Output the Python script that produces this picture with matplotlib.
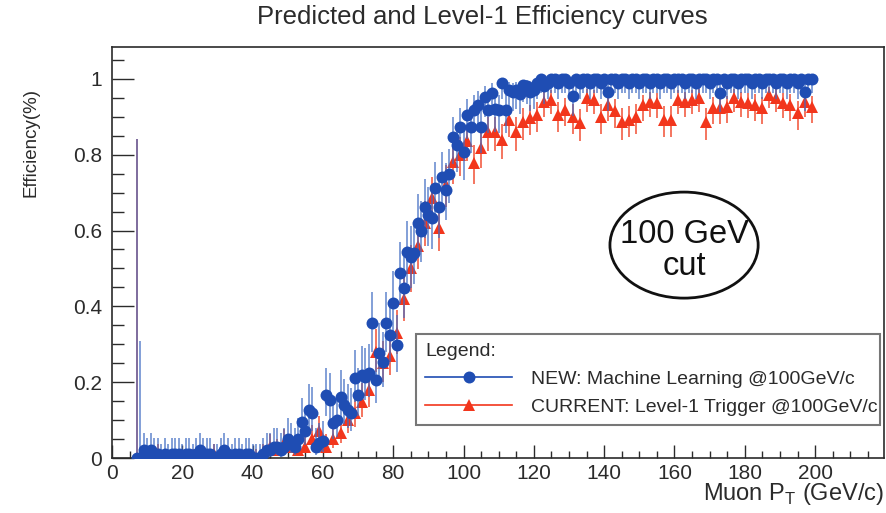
import math
import numpy as np
import matplotlib
matplotlib.use("Agg")
import matplotlib.pyplot as plt
from matplotlib.patches import Ellipse
from matplotlib.lines import Line2D
from matplotlib.ticker import MultipleLocator, FuncFormatter

plt.rcParams['font.family'] = ['Liberation Sans', 'DejaVu Sans']

# ---------------------------------------------------------------- data
# NEW (machine learning) efficiency, 1 GeV/c bins from 7 to 199 GeV/c
pt_new = np.arange(7, 200)
eff_new = [
    0.00, 0.00, 0.02, 0.01, 0.02, 0.01, 0.01, 0.00, 0.01, 0.00,
    0.01, 0.01, 0.01, 0.00, 0.01, 0.01, 0.00, 0.01, 0.02, 0.01,
    0.01, 0.01, 0.00, 0.00, 0.01, 0.02, 0.01, 0.00, 0.01, 0.01,
    0.00, 0.01, 0.01, 0.00, 0.00, 0.00, 0.01, 0.02, 0.02, 0.03,
    0.03, 0.02, 0.03, 0.05, 0.04, 0.03, 0.05, 0.095, 0.07, 0.127,
    0.12, 0.03, 0.04, 0.045, 0.166, 0.153, 0.092, 0.10, 0.16, 0.14,
    0.127, 0.118, 0.21, 0.166, 0.22, 0.214, 0.224, 0.356, 0.206, 0.277,
    0.253, 0.356, 0.325, 0.41, 0.298, 0.488, 0.449, 0.544, 0.53, 0.54,
    0.62, 0.60, 0.662, 0.64, 0.633, 0.712, 0.662, 0.741, 0.707, 0.75,
    0.847, 0.826, 0.873, 0.807, 0.905, 0.873, 0.918, 0.931, 0.873, 0.953,
    0.918, 0.963, 0.92, 0.918, 0.989, 0.918, 0.97, 0.966, 0.97, 0.96,
    0.984, 0.98, 0.966, 0.97, 0.99, 1.0, 0.98, 0.99, 1.0, 1.0,
    0.99, 1.0, 1.0, 0.99, 0.955, 1.0, 0.99, 1.0, 1.0, 0.99,
    1.0, 1.0, 0.99, 1.0, 0.965, 1.0, 1.0, 0.99, 1.0, 1.0,
    0.99, 1.0, 1.0, 0.99, 1.0, 1.0, 0.99, 1.0, 1.0, 0.99,
    1.0, 1.0, 0.99, 1.0, 1.0, 1.0, 0.99, 1.0, 1.0, 0.99,
    1.0, 1.0, 1.0, 0.99, 1.0, 1.0, 0.963, 1.0, 0.99, 1.0,
    1.0, 0.99, 1.0, 1.0, 1.0, 0.99, 1.0, 1.0, 0.99, 1.0,
    1.0, 1.0, 0.99, 1.0, 1.0, 0.99, 1.0, 1.0, 0.99, 1.0,
    0.965, 1.0, 1.0,
]
events_new = 48                      # events per bin
events_new_low = {7: 1, 8: 5}        # sparsely populated bins

# CURRENT (Level-1 trigger) efficiency, 2 GeV/c bins from 7 to 199 GeV/c
pt_cur = np.arange(7, 200, 2)
eff_cur = [
    0.00, 0.00, 0.00, 0.01, 0.00, 0.00, 0.00, 0.00, 0.00, 0.00,
    0.00, 0.01, 0.00, 0.00, 0.00, 0.00, 0.00, 0.00, 0.01, 0.03,
    0.02, 0.04, 0.03, 0.02, 0.03, 0.05, 0.07, 0.03, 0.05, 0.066,
    0.10, 0.12, 0.148, 0.18, 0.28, 0.25, 0.27, 0.33, 0.42, 0.50,
    0.56, 0.62, 0.686, 0.607, 0.72, 0.78, 0.80, 0.835, 0.778, 0.818,
    0.86, 0.86, 0.84, 0.892, 0.86, 0.887, 0.897, 0.905, 0.939, 0.945,
    0.905, 0.918, 0.90, 0.884, 0.95, 0.945, 0.90, 0.93, 0.915, 0.887,
    0.892, 0.90, 0.93, 0.94, 0.937, 0.892, 0.892, 0.945, 0.939, 0.945,
    0.95, 0.887, 0.923, 0.923, 0.926, 0.95, 0.939, 0.937, 0.931, 0.923,
    0.958, 0.95, 0.937, 0.931, 0.91, 0.939, 0.926,
]
events_cur = 80
events_cur_low = {7: 1}

x_ticks = [0, 20, 40, 60, 80, 100, 120, 140, 160, 180, 200]
y_ticks = [0, 0.2, 0.4, 0.6, 0.8, 1.0]

label_new = "NEW: Machine Learning @100GeV/c"
label_cur = "CURRENT: Level-1 Trigger @100GeV/c"


# ------------------------------------------- Clopper-Pearson intervals
def _betacf(a, b, x):
    fpmin = 1e-300
    qab, qap, qam = a + b, a + 1.0, a - 1.0
    c = 1.0
    d = 1.0 - qab * x / qap
    d = 1.0 / (d if abs(d) > fpmin else fpmin)
    h = d
    for m in range(1, 400):
        m2 = 2 * m
        aa = m * (b - m) * x / ((qam + m2) * (a + m2))
        d = 1.0 + aa * d
        d = d if abs(d) > fpmin else fpmin
        c = 1.0 + aa / c
        c = c if abs(c) > fpmin else fpmin
        d = 1.0 / d
        h *= d * c
        aa = -(a + m) * (qab + m) * x / ((a + m2) * (qap + m2))
        d = 1.0 + aa * d
        d = d if abs(d) > fpmin else fpmin
        c = 1.0 + aa / c
        c = c if abs(c) > fpmin else fpmin
        d = 1.0 / d
        de = d * c
        h *= de
        if abs(de - 1.0) < 1e-12:
            break
    return h


def _betai(a, b, x):
    if x <= 0.0:
        return 0.0
    if x >= 1.0:
        return 1.0
    bt = math.exp(math.lgamma(a + b) - math.lgamma(a) - math.lgamma(b)
                  + a * math.log(x) + b * math.log(1.0 - x))
    if x < (a + 1.0) / (a + b + 2.0):
        return bt * _betacf(a, b, x) / a
    return 1.0 - bt * _betacf(b, a, 1.0 - x) / b


def _beta_quantile(p, a, b):
    lo, hi = 0.0, 1.0
    for _ in range(45):
        mid = 0.5 * (lo + hi)
        if _betai(a, b, mid) < p:
            lo = mid
        else:
            hi = mid
    return 0.5 * (lo + hi)


def efficiency_errors(pt, eff, n_default, n_special, cl=0.682689):
    half = 0.5 * (1.0 - cl)
    err_lo, err_hi = [], []
    for x, e in zip(pt, eff):
        n = n_special.get(int(x), n_default)
        k = e * n
        lo = 0.0 if k <= 0 else _beta_quantile(half, k, n - k + 1)
        up = 1.0 if k >= n else _beta_quantile(1 - half, k + 1, n - k)
        err_lo.append(max(e - lo, 0.0))
        err_hi.append(max(up - e, 0.0))
    return np.array([err_lo, err_hi])


yerr_new = efficiency_errors(pt_new, eff_new, events_new, events_new_low)
yerr_cur = efficiency_errors(pt_cur, eff_cur, events_cur, events_cur_low)

# ---------------------------------------------------------------- plot
blue = "#1f4db3"
red = "#f2361c"
ink = "#2b2b2b"

fig = plt.figure(figsize=(8.86, 5.13), dpi=100)
ax = fig.add_axes([112 / 886, 55 / 513, 772 / 886, 411 / 513])

ax.errorbar(pt_cur, eff_cur, yerr=yerr_cur, fmt="^", color=red, ms=8.4,
            mew=0, ecolor=(0.95, 0.35, 0.25, 0.9), elinewidth=1.3,
            capsize=1.5, capthick=1.0, zorder=2)
ax.errorbar(pt_new, eff_new, yerr=yerr_new, fmt="o", color=blue, ms=8.6,
            mew=0, ecolor=(0.25, 0.42, 0.76, 0.7), elinewidth=1.3,
            capsize=1.5, capthick=1.0, zorder=3)

ax.set_xlim(0, 219.6)
ax.set_ylim(0, 1.084)
ax.set_xticks(x_ticks)
ax.set_yticks(y_ticks)
ax.xaxis.set_minor_locator(MultipleLocator(5))
ax.yaxis.set_minor_locator(MultipleLocator(0.05))
ax.yaxis.set_major_formatter(FuncFormatter(lambda v, p: f"{v:g}"))

ax.tick_params(axis="both", which="both", direction="in", top=False,
               right=False, colors=ink, labelsize=15, width=1.0)
ax.tick_params(axis="x", which="major", length=9.5, pad=4)
ax.tick_params(axis="x", which="minor", length=5)
ax.tick_params(axis="y", which="major", length=15.8, pad=7)
ax.tick_params(axis="y", which="minor", length=8.6)
for sp in ax.spines.values():
    sp.set_color(ink)
    sp.set_linewidth(1.2)

fig.text(482 / 886, 1 - 17 / 513, "Predicted and Level-1 Efficiency curves",
         ha="center", va="center", fontsize=18.5, color=ink)
fig.text(31 / 886, 1 - 143 / 513, "Efficiency(%)", rotation=90,
         ha="center", va="center", fontsize=13.5, color=ink)
fig.text(884 / 886, 1 - 494 / 513, r"Muon P$_\mathregular{T}$ (GeV/c)",
         ha="right", va="center", fontsize=17, color=ink)

# cut annotation
ax.add_patch(Ellipse((0.741, 0.518), 0.192, 0.258, transform=ax.transAxes,
                     fill=False, edgecolor="#111111", linewidth=2.0))
ax.text(0.741, 0.505, "100 GeV\ncut", transform=ax.transAxes, ha="center",
        va="center", fontsize=23.5, linespacing=1.03, color="#111111")

handles = [
    Line2D([], [], color=blue, marker="o", ms=8.6, mew=0, lw=1.2),
    Line2D([], [], color=red, marker="^", ms=8.4, mew=0, lw=1.2),
]
leg = ax.legend(handles, [label_new, label_cur], title="Legend:",
                loc="upper left", bbox_to_anchor=(0.394, 0.09, 0.601, 0.212),
                mode="expand", borderaxespad=0, alignment="left",
                fontsize=14, title_fontsize=14, handlelength=4.5,
                handletextpad=0.95, borderpad=0.45, labelspacing=0.55,
                fancybox=False, framealpha=1, edgecolor="#777777")
leg.get_frame().set_linewidth(1.5)
for t in leg.get_texts():
    t.set_color(ink)
leg.get_title().set_color(ink)

fig.savefig("out.png", dpi=100)
